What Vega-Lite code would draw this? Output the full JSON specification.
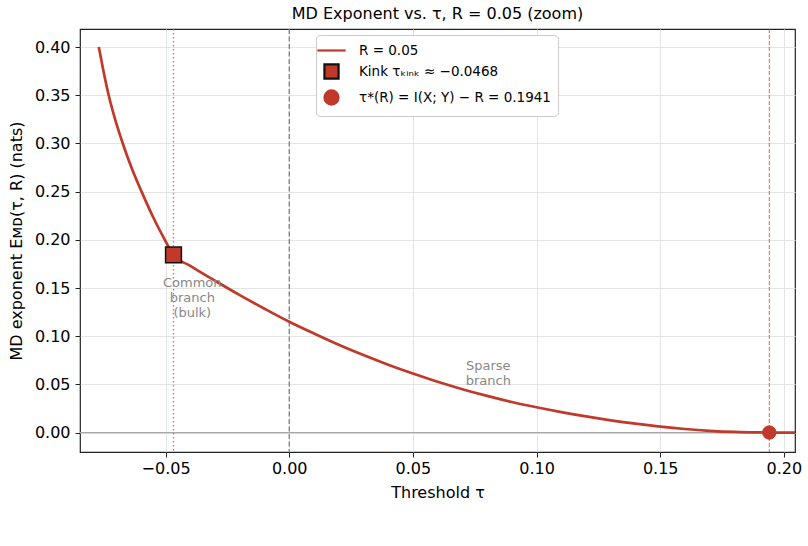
{
  "$schema": "https://vega.github.io/schema/vega-lite/v6.json",
  "width": 715,
  "height": 423,
  "autosize": {"type": "none"},
  "padding": {"left": 80, "top": 29, "right": 13, "bottom": 94},
  "background": "white",
  "title": {"text": "MD Exponent vs. τ, R = 0.05 (zoom)", "fontSize": 16, "font": "DejaVu Sans", "fontWeight": "normal", "color": "#000000", "offset": 6, "anchor": "middle"},
  "config": {
    "font": "DejaVu Sans",
    "view": {"stroke": "#222222", "strokeWidth": 1.2},
    "axis": {"labelFont": "DejaVu Sans", "titleFont": "DejaVu Sans", "labelFontSize": 16, "titleFontSize": 16, "labelColor": "#000000", "titleColor": "#000000", "titleFontWeight": "normal", "tickColor": "#222222", "tickSize": 5, "tickWidth": 1, "domain": false, "gridColor": "#e4e4e4", "gridWidth": 1},
    "legend": {"orient": "none", "legendX": 236, "legendY": 6, "padding": 7, "fillColor": "#ffffff", "strokeColor": "#cccccc", "cornerRadius": 4, "labelFontSize": 13.5, "labelFont": "DejaVu Sans", "labelColor": "#000000", "symbolSize": 200, "symbolStrokeWidth": 2.2, "rowPadding": 3, "labelOffset": 19, "labelLimit": 400}
  },
  "datasets": {
    "curve": [
      {"t": -0.0770, "E": 0.400},
      {"t": -0.0751, "E": 0.375},
      {"t": -0.0730, "E": 0.350},
      {"t": -0.0704, "E": 0.325},
      {"t": -0.0673, "E": 0.300},
      {"t": -0.0638, "E": 0.275},
      {"t": -0.0597, "E": 0.250},
      {"t": -0.0553, "E": 0.225},
      {"t": -0.0503, "E": 0.200},
      {"t": -0.0468, "E": 0.1843},
      {"t": -0.040, "E": 0.1730},
      {"t": -0.030, "E": 0.1575},
      {"t": -0.020, "E": 0.1426},
      {"t": -0.010, "E": 0.1285},
      {"t": 0.000, "E": 0.1150},
      {"t": 0.010, "E": 0.1028},
      {"t": 0.020, "E": 0.0911},
      {"t": 0.030, "E": 0.0804},
      {"t": 0.040, "E": 0.0704},
      {"t": 0.050, "E": 0.0612},
      {"t": 0.060, "E": 0.0527},
      {"t": 0.070, "E": 0.0450},
      {"t": 0.080, "E": 0.0380},
      {"t": 0.090, "E": 0.0317},
      {"t": 0.100, "E": 0.0262},
      {"t": 0.110, "E": 0.0212},
      {"t": 0.120, "E": 0.0167},
      {"t": 0.130, "E": 0.0127},
      {"t": 0.140, "E": 0.0092},
      {"t": 0.150, "E": 0.0062},
      {"t": 0.160, "E": 0.0037},
      {"t": 0.170, "E": 0.0018},
      {"t": 0.180, "E": 0.0006},
      {"t": 0.190, "E": 0.0001},
      {"t": 0.1941, "E": 0.0},
      {"t": 0.2045, "E": 0.0}
    ],
    "notes": [
      {"t": -0.0392, "E": 0.1550, "label": "Common\nbranch\n(bulk)"},
      {"t": 0.0805, "E": 0.0690, "label": "Sparse\nbranch"}
    ]
  },
  "layer": [
    {
      "data": {"values": [{"E": 0}]},
      "mark": {"type": "rule", "color": "#a8a8a8", "strokeWidth": 1.3},
      "encoding": {
        "y": {"field": "E", "type": "quantitative", "scale": {"domain": [-0.0202, 0.4188], "nice": false, "zero": false}}
      }
    },
    {
      "data": {"values": [{"t": -0.0468}]},
      "mark": {"type": "rule", "color": "#e8453a", "strokeWidth": 1.3, "strokeDash": [1.5, 2.5], "opacity": 0.85},
      "encoding": {
        "x": {"field": "t", "type": "quantitative", "scale": {"domain": [-0.0846, 0.2045], "nice": false, "zero": false}}
      }
    },
    {
      "data": {"values": [{"t": 0}]},
      "mark": {"type": "rule", "color": "#808080", "strokeWidth": 1.3, "strokeDash": [5, 2.5]},
      "encoding": {
        "x": {"field": "t", "type": "quantitative", "scale": {"domain": [-0.0846, 0.2045], "nice": false, "zero": false}}
      }
    },
    {
      "data": {"values": [{"t": 0.1941}]},
      "mark": {"type": "rule", "color": "#c0392b", "strokeWidth": 1, "strokeDash": [4, 2], "opacity": 0.75},
      "encoding": {
        "x": {"field": "t", "type": "quantitative", "scale": {"domain": [-0.0846, 0.2045], "nice": false, "zero": false}}
      }
    },
    {
      "data": {"name": "curve"},
      "mark": {"type": "line", "color": "#c0392b", "strokeWidth": 2.7, "interpolate": "monotone"},
      "encoding": {
        "x": {"field": "t", "type": "quantitative", "scale": {"domain": [-0.0846, 0.2045], "nice": false, "zero": false},
              "axis": {"title": "Threshold τ", "values": [-0.05, 0, 0.05, 0.1, 0.15, 0.2], "format": ".2f", "labelPadding": 3, "titlePadding": 8, "grid": true}},
        "y": {"field": "E", "type": "quantitative", "scale": {"domain": [-0.0202, 0.4188], "nice": false, "zero": false},
              "axis": {"title": "MD exponent Eᴍᴅ(τ, R) (nats)", "values": [0, 0.05, 0.1, 0.15, 0.2, 0.25, 0.3, 0.35, 0.4], "format": ".2f", "labelPadding": 5, "titlePadding": 10, "grid": true}}
      }
    },
    {
      "data": {"name": "notes"},
      "mark": {"type": "text", "fontSize": 13, "color": "#888888", "align": "center", "baseline": "middle", "lineBreak": "\n", "lineHeight": 15, "font": "DejaVu Sans"},
      "encoding": {
        "x": {"field": "t", "type": "quantitative", "scale": {"domain": [-0.0846, 0.2045], "nice": false, "zero": false}},
        "y": {"field": "E", "type": "quantitative", "scale": {"domain": [-0.0202, 0.4188], "nice": false, "zero": false}},
        "text": {"field": "label", "type": "nominal"}
      }
    },
    {
      "data": {"values": [{"t": -0.0468, "E": 0.1843, "label": "Kink τₖᵢₙₖ ≈ −0.0468"}]},
      "mark": {"type": "point", "filled": true, "size": 250, "strokeWidth": 1.5, "opacity": 1},
      "encoding": {
        "x": {"field": "t", "type": "quantitative", "scale": {"domain": [-0.0846, 0.2045], "nice": false, "zero": false}},
        "y": {"field": "E", "type": "quantitative", "scale": {"domain": [-0.0202, 0.4188], "nice": false, "zero": false}},
        "color": {"field": "label", "type": "nominal", "scale": {"domain": ["R = 0.05", "Kink τₖᵢₙₖ ≈ −0.0468", "τ*(R) = I(X; Y) − R = 0.1941"], "range": ["#c0392b", "#c0392b", "#c0392b"]}, "legend": {"title": null}},
        "shape": {"field": "label", "type": "nominal", "scale": {"domain": ["R = 0.05", "Kink τₖᵢₙₖ ≈ −0.0468", "τ*(R) = I(X; Y) − R = 0.1941"], "range": ["M-2,0H2", "square", "circle"]}, "legend": {"title": null}},
        "stroke": {"field": "label", "type": "nominal", "scale": {"domain": ["R = 0.05", "Kink τₖᵢₙₖ ≈ −0.0468", "τ*(R) = I(X; Y) − R = 0.1941"], "range": ["#c0392b", "#111111", "#c0392b"]}, "legend": {"title": null}}
      }
    },
    {
      "data": {"values": [{"t": 0.1941, "E": 0.0, "label": "τ*(R) = I(X; Y) − R = 0.1941"}]},
      "mark": {"type": "point", "filled": true, "size": 180, "strokeWidth": 1, "opacity": 1},
      "encoding": {
        "x": {"field": "t", "type": "quantitative", "scale": {"domain": [-0.0846, 0.2045], "nice": false, "zero": false}},
        "y": {"field": "E", "type": "quantitative", "scale": {"domain": [-0.0202, 0.4188], "nice": false, "zero": false}},
        "color": {"field": "label", "type": "nominal", "scale": {"domain": ["R = 0.05", "Kink τₖᵢₙₖ ≈ −0.0468", "τ*(R) = I(X; Y) − R = 0.1941"], "range": ["#c0392b", "#c0392b", "#c0392b"]}, "legend": {"title": null}},
        "shape": {"field": "label", "type": "nominal", "scale": {"domain": ["R = 0.05", "Kink τₖᵢₙₖ ≈ −0.0468", "τ*(R) = I(X; Y) − R = 0.1941"], "range": ["M-2,0H2", "square", "circle"]}, "legend": {"title": null}},
        "stroke": {"field": "label", "type": "nominal", "scale": {"domain": ["R = 0.05", "Kink τₖᵢₙₖ ≈ −0.0468", "τ*(R) = I(X; Y) − R = 0.1941"], "range": ["#c0392b", "#111111", "#c0392b"]}, "legend": {"title": null}}
      }
    }
  ]
}
